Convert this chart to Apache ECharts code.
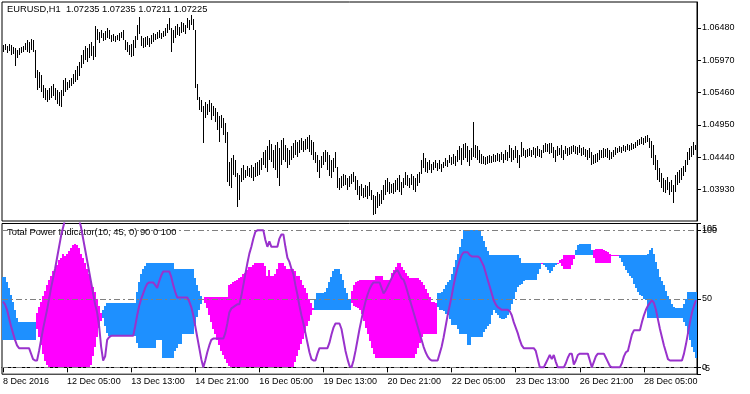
<!DOCTYPE html>
<html><head><meta charset="utf-8">
<script src="https://cdn.jsdelivr.net/npm/echarts@6/dist/echarts.min.js"></script>
<style>html,body{margin:0;padding:0;background:#fff}#c{width:750px;height:394px}</style>
</head><body><div id="c"></div>
<script>
// ---- price bars (EURUSD H1) ----
const high = [
1.0621,1.0623,1.0620,1.0623,1.0621,1.0618,1.0616,1.0613,1.0616,1.0618,
1.0620,1.0624,1.0629,1.0626,1.0631,1.0629,1.0613,1.0582,1.0579,1.0574,
1.0558,1.0553,1.0550,1.0553,1.0557,1.0560,1.0553,1.0550,1.0547,1.0550,
1.0566,1.0569,1.0563,1.0566,1.0569,1.0575,1.0582,1.0588,1.0594,1.0605,
1.0613,1.0620,1.0616,1.0623,1.0626,1.0620,1.0651,1.0646,1.0642,1.0645,
1.0640,1.0643,1.0648,1.0645,1.0637,1.0639,1.0635,1.0637,1.0640,1.0642,
1.0645,1.0629,1.0626,1.0621,1.0623,1.0629,1.0635,1.0653,1.0665,1.0635,
1.0632,1.0634,1.0635,1.0632,1.0637,1.0640,1.0639,1.0642,1.0645,1.0640,
1.0643,1.0648,1.0654,1.0664,1.0648,1.0645,1.0651,1.0654,1.0650,1.0657,
1.0656,1.0653,1.0664,1.0661,1.0669,1.0662,1.0645,1.0560,1.0539,1.0534,
1.0525,1.0531,1.0528,1.0534,1.0530,1.0525,1.0522,1.0516,1.0509,1.0511,
1.0506,1.0498,1.0484,1.0437,1.0443,1.0448,1.0440,1.0419,1.0416,1.0427,
1.0432,1.0424,1.0430,1.0427,1.0432,1.0429,1.0435,1.0437,1.0440,1.0443,
1.0452,1.0456,1.0462,1.0471,1.0465,1.0456,1.0463,1.0468,1.0459,1.0471,
1.0474,1.0463,1.0459,1.0456,1.0462,1.0467,1.0471,1.0468,1.0471,1.0474,
1.0470,1.0473,1.0476,1.0479,1.0471,1.0468,1.0452,1.0448,1.0440,1.0446,
1.0452,1.0456,1.0452,1.0448,1.0440,1.0443,1.0452,1.0429,1.0411,1.0415,
1.0418,1.0416,1.0411,1.0415,1.0418,1.0421,1.0415,1.0408,1.0399,1.0402,
1.0396,1.0400,1.0399,1.0405,1.0393,1.0385,1.0383,1.0389,1.0386,1.0393,
1.0400,1.0408,1.0411,1.0405,1.0402,1.0404,1.0408,1.0411,1.0416,1.0405,
1.0411,1.0421,1.0416,1.0411,1.0418,1.0415,1.0411,1.0418,1.0421,1.0440,
1.0451,1.0443,1.0437,1.0440,1.0434,1.0437,1.0440,1.0435,1.0440,1.0434,
1.0437,1.0443,1.0440,1.0448,1.0445,1.0449,1.0446,1.0456,1.0462,1.0459,
1.0465,1.0467,1.0462,1.0456,1.0459,1.0500,1.0463,1.0462,1.0456,1.0449,
1.0446,1.0445,1.0446,1.0448,1.0446,1.0449,1.0448,1.0451,1.0449,1.0452,
1.0449,1.0456,1.0452,1.0463,1.0459,1.0456,1.0462,1.0456,1.0448,1.0468,
1.0459,1.0456,1.0457,1.0459,1.0456,1.0460,1.0459,1.0462,1.0457,1.0456,
1.0463,1.0467,1.0465,1.0467,1.0467,1.0460,1.0456,1.0462,1.0459,1.0463,
1.0456,1.0462,1.0459,1.0460,1.0462,1.0463,1.0462,1.0460,1.0463,1.0459,
1.0460,1.0457,1.0456,1.0459,1.0452,1.0448,1.0449,1.0451,1.0456,1.0456,
1.0459,1.0457,1.0459,1.0456,1.0452,1.0456,1.0460,1.0459,1.0462,1.0460,
1.0463,1.0462,1.0465,1.0463,1.0467,1.0465,1.0468,1.0471,1.0473,1.0476,
1.0474,1.0478,1.0479,1.0474,1.0470,1.0463,1.0448,1.0440,1.0427,1.0419,
1.0411,1.0408,1.0413,1.0405,1.0408,1.0400,1.0416,1.0421,1.0424,1.0427,
1.0430,1.0440,1.0452,1.0459,1.0462,1.0468,1.0463];
const low = [
1.0610,1.0613,1.0609,1.0612,1.0605,1.0607,1.0588,1.0601,1.0605,1.0609,
1.0610,1.0613,1.0610,1.0609,1.0613,1.0610,1.0569,1.0550,1.0553,1.0547,
1.0538,1.0534,1.0531,1.0534,1.0538,1.0541,1.0534,1.0528,1.0525,1.0523,
1.0541,1.0547,1.0550,1.0553,1.0557,1.0560,1.0563,1.0566,1.0572,1.0585,
1.0591,1.0598,1.0594,1.0601,1.0604,1.0598,1.0602,1.0629,1.0624,1.0632,
1.0628,1.0629,1.0632,1.0631,1.0626,1.0628,1.0626,1.0629,1.0628,1.0632,
1.0629,1.0613,1.0610,1.0605,1.0602,1.0604,1.0616,1.0629,1.0639,1.0620,
1.0616,1.0618,1.0621,1.0618,1.0623,1.0626,1.0629,1.0631,1.0632,1.0631,
1.0634,1.0635,1.0640,1.0645,1.0610,1.0624,1.0632,1.0637,1.0635,1.0640,
1.0642,1.0639,1.0648,1.0645,1.0653,1.0645,1.0553,1.0534,1.0519,1.0516,
1.0467,1.0506,1.0511,1.0516,1.0503,1.0509,1.0500,1.0487,1.0468,1.0490,
1.0479,1.0467,1.0405,1.0399,1.0396,1.0416,1.0413,1.0366,1.0377,1.0405,
1.0408,1.0411,1.0415,1.0413,1.0411,1.0407,1.0413,1.0415,1.0416,1.0424,
1.0432,1.0427,1.0421,1.0440,1.0437,1.0427,1.0424,1.0411,1.0399,1.0432,
1.0440,1.0437,1.0427,1.0432,1.0440,1.0443,1.0448,1.0445,1.0451,1.0456,
1.0452,1.0456,1.0457,1.0452,1.0448,1.0440,1.0435,1.0421,1.0411,1.0427,
1.0432,1.0437,1.0424,1.0415,1.0411,1.0421,1.0427,1.0396,1.0393,1.0396,
1.0399,1.0400,1.0393,1.0397,1.0402,1.0405,1.0393,1.0385,1.0377,1.0383,
1.0380,1.0382,1.0378,1.0383,1.0377,1.0353,1.0355,1.0364,1.0367,1.0371,
1.0377,1.0385,1.0389,1.0386,1.0388,1.0386,1.0389,1.0393,1.0389,1.0385,
1.0396,1.0400,1.0399,1.0396,1.0400,1.0393,1.0389,1.0399,1.0404,1.0418,
1.0427,1.0421,1.0419,1.0424,1.0419,1.0424,1.0427,1.0422,1.0426,1.0421,
1.0427,1.0430,1.0429,1.0435,1.0432,1.0434,1.0430,1.0437,1.0440,1.0432,
1.0440,1.0443,1.0437,1.0430,1.0440,1.0445,1.0443,1.0440,1.0435,1.0434,
1.0434,1.0432,1.0434,1.0435,1.0435,1.0437,1.0437,1.0438,1.0437,1.0440,
1.0435,1.0440,1.0438,1.0443,1.0437,1.0440,1.0443,1.0435,1.0427,1.0445,
1.0446,1.0443,1.0445,1.0446,1.0445,1.0448,1.0443,1.0446,1.0445,1.0443,
1.0451,1.0452,1.0452,1.0449,1.0451,1.0443,1.0437,1.0446,1.0448,1.0443,
1.0440,1.0449,1.0446,1.0448,1.0449,1.0452,1.0449,1.0448,1.0451,1.0446,
1.0448,1.0445,1.0440,1.0443,1.0432,1.0434,1.0435,1.0437,1.0440,1.0443,
1.0443,1.0445,1.0443,1.0440,1.0441,1.0445,1.0448,1.0451,1.0452,1.0451,
1.0454,1.0452,1.0456,1.0454,1.0456,1.0457,1.0459,1.0462,1.0463,1.0465,
1.0463,1.0467,1.0468,1.0459,1.0443,1.0432,1.0424,1.0408,1.0405,1.0396,
1.0389,1.0388,1.0393,1.0385,1.0389,1.0372,1.0389,1.0400,1.0404,1.0408,
1.0415,1.0421,1.0432,1.0440,1.0445,1.0448,1.0456];

// ---- Total Power Indicator ----
const bullLine = [
66,66,62,58,53,48,42,36,33,33,
33,33,33,33,33,33,33,28,22,16,
10,5,2,0,0,0,0,0,0,0,
0,0,0,0,0,0,0,0,0,0,
0,0,0,0,2,8,15,22,29,34,
42,45,47,47,47,47,47,47,47,47,
47,47,47,47,47,47,47,55,62,68,
72,74,76,76,76,76,76,76,76,76,
76,76,76,76,76,76,72,72,72,72,
72,72,72,72,72,72,65,60,56,52,
50,47,43,38,33,28,24,20,16,12,
9,6,3,1,0,0,0,0,0,0,
0,0,0,0,0,0,0,0,0,0,
0,0,0,0,0,0,0,0,0,0,
0,0,0,0,0,0,4,8,13,17,
21,25,30,34,38,42,50,54,54,54,
54,55,58,62,66,70,72,72,72,68,
64,58,54,50,47,45,44,43,42,39,
34,29,24,19,14,10,7,7,7,7,
7,7,7,7,7,7,7,7,7,7,
7,7,7,7,7,7,10,14,18,22,
24,24,24,24,24,24,24,54,54,55,
57,60,62,64,68,73,78,83,88,94,
100,100,100,100,100,100,100,100,100,96,
92,88,85,82,82,82,82,82,82,82,
82,82,82,82,82,82,82,82,80,76,
76,76,76,76,76,76,76,76,76,76,
76,76,76,76,76,76,76,76,76,74,
72,72,72,72,75,79,86,89,90,90,
90,90,90,90,86,80,76,76,76,76,
76,76,76,76,81.5,81.5,81.5,81.5,82,82,
82,82,82,82,82,82,82,82,82,82,
82,82,83,86,87,83,77,72,66,63,
60,56,52,49,46,44,43.5,43.5,43.5,43.5,
46,50,55,55,55,55,55];
const bearLine = [
20,20,20,20,20,20,20,20,20,20,
20,20,20,20,20,20,20,40,44,48,
52,56,60,64,67,70,72,75,78,80,
83,81,83,85,87,89,90,89,87,83,
80,76,72,68,63,59,55,50,45,40,
36,30,25,23,23,23,23,23,23,23,
23,23,23,23,23,23,23,18,14,14,
14,14,14,14,14,14,14,20,20,20,
7,7,7,7,7,7,12,14,17,17,
24,24,24,24,24,24,30,37,42,46,
49,51,51,51,51,51,51,51,51,51,
51,51,51,60,61,62,63,64,65,66,
68,69,71,73,73,75,76,76,76,76,
76,74,67,71,67,67,68,72,76,76,
76,74,72,72,72,72,70,67,67,64,
60,58,54,50,47,43,42,42,42,42,
42,42,42,42,42,42,42,42,42,42,
42,42,42,42,56,60,62,63,64,64,
64,64,64,64,64,64,67,67,67,67,
64,64,64,64,69,71,73,76,76,73,
71,69,67,65,65,65,65,65,64,62,
60,57,54,51,48,48,47,44,42,42,
41,39,38,35,31,31,31,28,24,24,
24,24,16,16,22,22,22,22,22,22,
26,28,30,32,38,42,40,38,36,35,
35,36,38,42,46,50,55,59,60,61,
63,64,64,64,64,64,64,68,72,76,
75,73,71,69,70,73,75,76,78,79,
82,82,82,82,82,82,82,82,82,82,
82,82,82,82,82,86,86.5,86.5,86.5,86.5,
86,85,84,83,82,82,82,82,80,77,
74,71,69,67,65,61,58,55,53,52,
50,49,36,36,36,36,36,36,36,36,
36,36,36,36,36,36,36,36,36,36,
33,30,24,20,15,11,7];
const totalPower = [
48,46,42,36,30,25,20,16,14,14,
14,14,14,14,10,6,5,5,12,20,
28,35,42,50,58,65,72,80,88,96,
102,108,108,108,108,108,108,108,108,102,
94,86,78,70,62,54,46,40,30,15,
5,8,20,22,23,23,23,23,23,23,
23,23,23,23,23,23,30,38,45,50,
54,58,61,62,62,62,60,58,63,67,
70,70,70,70,66,60,55,51,51,51,
51,51,51,48,44,38,30,22,14,6,
0,5,11,16,20,21,21,21,21,21,
21,25,32,40,43,44,45,46,46,52,
60,68,76,83,88,94,99,100,100,100,
100,93,88,92,88,88,88,88,94,97,
97,88,80,77,72,68,60,53,45,38,
32,25,18,11,6,5,5,10,14,14,
14,14,14,18,24,29,32,32,32,28,
20,12,6,1,0,5,12,20,28,35,
42,48,53,57,60,62,62,62,62,58,
54,56,59,62,65,68,70,71,68,65,
64,60,55,50,45,40,35,30,25,20,
15,11,8,6,5,5,5,5,10,15,
22,30,38,45,52,60,67,73,78,82,
84,84,84,82,81,81,81,81,80,77,
74,69,64,59,54,49,46,44,43,42,
42,42,42,41,38,33,29,25,20,16,
14,14,14,14,14,14,12,6,0,0,
0,3,6,9,6,9,4,0,0,0,
0,3,7,10,10,2,5,9,10,10,
10,10,10,5,0,4,8,10,10,10,
10,7,4,1,0,0,0,0,0,3,
8,11,12,18,24,27,27,27,27,33,
38,42,45,47,49,47,42,35,28,22,
16,11,6,5,5,5,5,5,5,5,
10,17,25,33,40,45,49];

// ---- axes ----
const xTickLabels = ['8 Dec 2016','12 Dec 05:00','13 Dec 13:00','14 Dec 21:00','16 Dec 05:00',
  '19 Dec 13:00','20 Dec 21:00','22 Dec 05:00','23 Dec 13:00','26 Dec 21:00','28 Dec 05:00'];
const barsPerTick = 32;
const priceTicks = [1.0393, 1.0444, 1.0495, 1.0546, 1.0597, 1.0648];
const priceRange = [1.03436, 1.06890];
const indicatorRange = [-5, 105];
const levels = [0, 50, 100];
const levelTicks = [0, 50, 100];
const edgeTicks = [-5, 105];

const FONT = "'Liberation Sans',Arial,sans-serif";
const FS = 9;
const cats = high.map((_, i) => String(i));
// edge labels are kept inside the panel, as the terminal does
const clampLbl = v => Math.min(Math.max(v, indicatorRange[0] + 4), indicatorRange[1] - 4);
const edgeLabelPos = edgeTicks.map(clampLbl);

const chart = echarts.init(document.getElementById('c'), null, {renderer: 'canvas', devicePixelRatio: 1});
const lblStyle = {fontSize: FS, fontFamily: FONT, color: '#000'};

const option = {
  animation: false,
  backgroundColor: '#fff',
  title: [
    {text: 'EURUSD,H1  1.07235 1.07235 1.07211 1.07225', left: 7, top: 5, padding: 0,
     textStyle: {fontSize: 9.3, fontFamily: FONT, color: '#000', fontWeight: 'normal'}},
    {text: 'Total Power Indicator(10, 45, 0) 90 0 100', left: 7, top: 228, padding: 0,
     textStyle: {fontSize: 9.4, fontFamily: FONT, color: '#000', fontWeight: 'normal'}}
  ],
  grid: [
    {left: 2, top: 2, width: 695, height: 219, show: true, borderColor: '#000', borderWidth: 1,
     backgroundColor: 'transparent', containLabel: false, outerBoundsMode: 'none'},
    {left: 2, top: 223.5, width: 695, height: 150.7, show: true, borderColor: '#000', borderWidth: 1,
     backgroundColor: 'transparent', containLabel: false, outerBoundsMode: 'none'}
  ],
  xAxis: [
    {type: 'category', gridIndex: 0, data: cats, boundaryGap: true, show: false},
    {type: 'category', gridIndex: 1, data: cats, boundaryGap: true,
     axisLine: {show: true, lineStyle: {color: '#000', width: 1}},
     axisTick: {show: true, alignWithLabel: true, length: 5, interval: (i) => i % barsPerTick === 0,
                lineStyle: {color: '#000'}},
     axisLabel: Object.assign({show: true, interval: (i) => i % barsPerTick === 0, align: 'left', margin: 3,
                hideOverlap: false,
                formatter: (v, i) => xTickLabels[Math.round(Number(v) / barsPerTick)] || ''}, lblStyle),
     splitLine: {show: false}}
  ],
  yAxis: [
    {type: 'value', gridIndex: 0, position: 'right', min: priceRange[0], max: priceRange[1],
     axisLine: {show: true, lineStyle: {color: '#000'}},
     axisTick: {show: true, length: 4, customValues: priceTicks, lineStyle: {color: '#000'}},
     axisLabel: Object.assign({customValues: priceTicks, margin: 5, formatter: v => v.toFixed(5)}, lblStyle),
     splitLine: {show: false}},
    {type: 'value', gridIndex: 1, position: 'right', min: indicatorRange[0], max: indicatorRange[1],
     axisLine: {show: true, lineStyle: {color: '#000'}},
     axisTick: {show: true, length: 4, customValues: levelTicks.concat(edgeTicks), lineStyle: {color: '#000'}},
     axisLabel: Object.assign({customValues: levelTicks, margin: 5, formatter: v => String(v)}, lblStyle),
     splitLine: {show: false}},
    {type: 'value', gridIndex: 1, position: 'right', min: indicatorRange[0], max: indicatorRange[1],
     axisLine: {show: false}, axisTick: {show: false}, splitLine: {show: false},
     axisLabel: Object.assign({customValues: edgeLabelPos, margin: 5,
        formatter: v => { const k = edgeLabelPos.indexOf(v); return k >= 0 ? String(edgeTicks[k]) : ''; }}, lblStyle)}
  ],
  series: [
    {
      type: 'custom', name: 'EURUSD', xAxisIndex: 0, yAxisIndex: 0, clip: true,
      data: high.map((h, i) => [i, low[i], h]),
      encode: {x: 0, y: [1, 2]},
      renderItem: (params, api) => {
        const top = api.coord([api.value(0), api.value(2)]);
        const bot = api.coord([api.value(0), api.value(1)]);
        const y0 = Math.round(top[1]);
        const y1 = Math.round(bot[1]);
        return {type: 'rect', shape: {x: Math.floor(top[0]), y: y0, width: 1, height: Math.max(1, y1 - y0)},
                style: {fill: '#000'}};
      }
    },
    {
      type: 'custom', name: 'fill', xAxisIndex: 1, yAxisIndex: 1, clip: true, z: 2,
      data: bullLine.map((b, i) => [i, b, bearLine[i]]),
      encode: {x: 0, y: [1, 2]},
      renderItem: (params, api) => {
        const i = api.value(0), a = api.value(1), b = api.value(2);
        const pa = api.coord([i, a]);
        const pb = api.coord([i, b]);
        const w = api.size([1, 0])[0];
        const x0 = Math.round(pa[0] - w / 2), x1 = Math.round(pa[0] + w / 2);
        const yt = Math.round(Math.min(pa[1], pb[1]));
        const yb = Math.round(Math.max(pa[1], pb[1]));
        return {type: 'rect', shape: {x: x0, y: yt, width: x1 - x0, height: Math.max(1, yb - yt)},
                style: {fill: a > b ? '#1E90FF' : '#FF00FF'}};
      },
      markLine: {
        silent: true, symbol: ['none', 'none'], z: 3, animation: false,
        label: {show: false},
        lineStyle: {color: '#808080', width: 1, type: [6, 3, 2, 3]},
        data: levels.map(v => ({yAxis: v}))
      }
    },
    {
      type: 'line', name: 'Total Power', xAxisIndex: 1, yAxisIndex: 1, data: totalPower,
      symbol: 'none', clip: true, z: 6,
      lineStyle: {color: '#9932CC', width: 2}
    }
  ]
};
chart.setOption(option);
</script>
</body></html>
